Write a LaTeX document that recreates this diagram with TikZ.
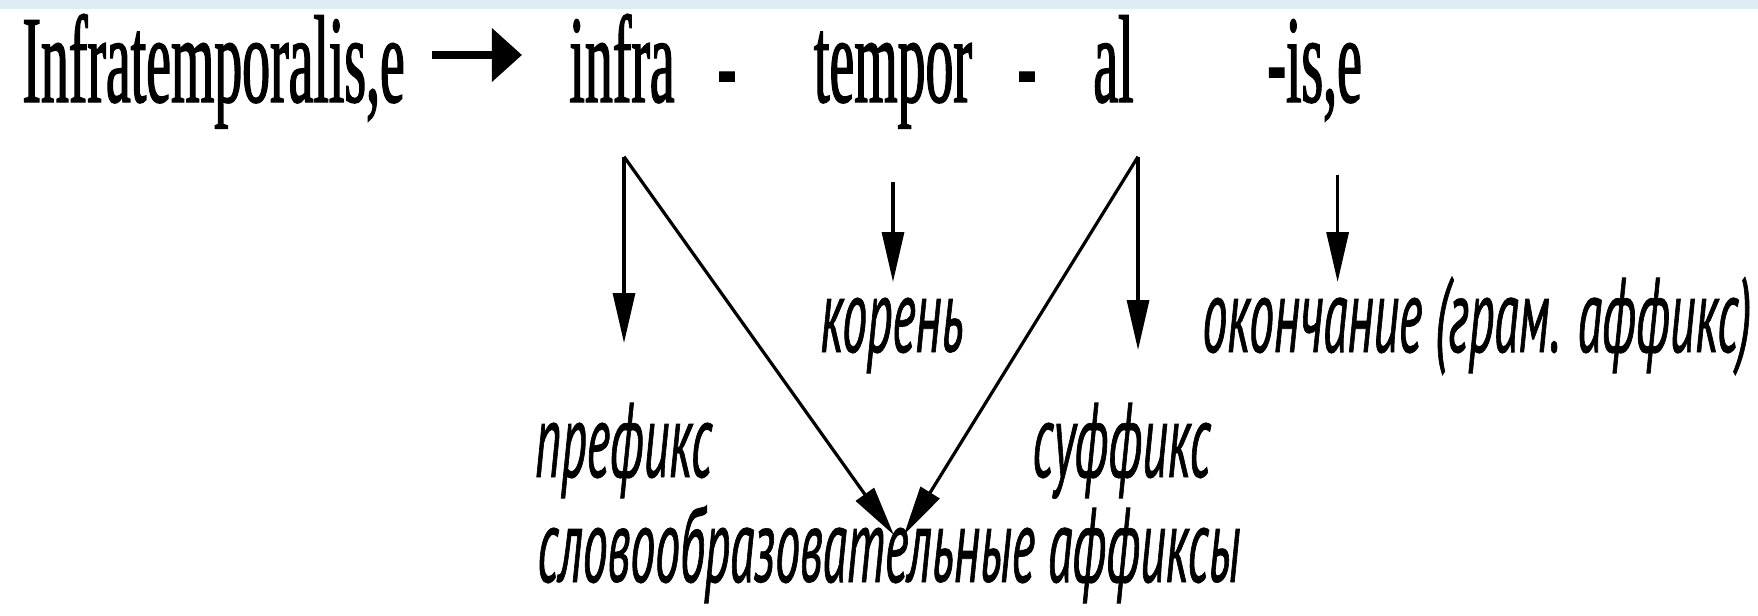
\documentclass[tikz,border=0pt]{standalone}
\usepackage{fontspec}
\setmainfont{Liberation Serif}
\newfontfamily\morphfont[FakeStretch=0.446,FakeBold=1]{Liberation Serif}
\newfontfamily\notefont[FakeStretch=0.47,FakeBold=0.6]{PT Sans}
\usetikzlibrary{arrows.meta,calc}
\definecolor{band}{RGB}{222,236,246}

\begin{document}
\begin{tikzpicture}[x=0.5pt, y=-0.5pt,
  morph/.style={inner sep=0pt, anchor=base, font=\morphfont\fontsize{62.5}{70}\selectfont},
  note/.style={inner sep=0pt, anchor=base west, font=\notefont\itshape\fontsize{53}{60}\selectfont},
  down/.style={-{Triangle[length=25pt,width=11pt]}, line width=1.6pt},
  fat/.style={-{Triangle[length=15pt,width=26pt]}, line width=4pt}]
\useasboundingbox (0,0) rectangle (1758,616);
\fill[band] (0,0) rectangle (1758,9);

% the word and its parts
\node[morph, anchor=base west] (src) at (22,102) {Infratemporalis,e};
\node[morph] (infra) at (622,102) {infra};
\node[morph] (hyA) at (727,106) {-};
\node[morph] (tempor) at (893,102) {tempor};
\node[morph] (hyB) at (1027,106) {-};
\node[morph, anchor=base west] (al) at (1093,102) {al};
\node[morph, anchor=base west] (ise) at (1267,102) {-is,e};

% labels
\node[note, anchor=base] (root) at (892,352) {корень};
\node[note] (ending) at (1202,352) {окончание (грам. аффикс)};
\node[note] (prefix) at (535,477) {префикс};
\node[note] (suffix) at (1032,477) {суффикс};
\node[note] (derivaff) at (537,582) {словообразовательные аффиксы};

\coordinate (infraFoot) at ($(infra.south)+(2,53)$);
\coordinate (temporFoot) at ($(tempor.south)+(0,53)$);
\coordinate (alFoot) at ($(al.south east)+(4,53)$);
\coordinate (iseFoot) at ($(ise.south)+(23,53)$);
\coordinate (meet) at ($(derivaff.base)+(10,-47)$);

\draw[fat] ($(src.base east)+(27,-47)$) -- ($(infra.base west)+(-47,-47)$);
\draw[down] (infraFoot) -- ($(infraFoot |- prefix.base)+(0,-134)$);
\draw[down] (temporFoot) -- ($(temporFoot |- root.base)+(0,-70)$);
\draw[down] (alFoot) -- ($(alFoot |- suffix.base)+(0,-127)$);
\draw[down] (iseFoot) -- ($(iseFoot |- ending.base)+(0,-70)$);
\draw[down] (infraFoot) -- ($(meet)+(-5,0)$);
\draw[down] (alFoot) -- ($(meet)+(5,0)$);
\end{tikzpicture}
\end{document}
